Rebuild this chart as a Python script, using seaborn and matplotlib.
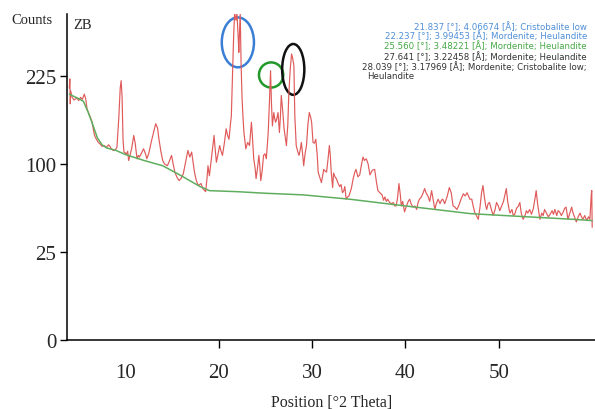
import numpy as np
import pandas as pd
import matplotlib
matplotlib.use('Agg')
import matplotlib.pyplot as plt
from matplotlib.patches import Ellipse
import seaborn as sns

two_theta = [
    4.0, 4.05, 4.1, 4.15, 4.3, 4.5, 4.8, 5.0, 5.2, 5.4, 5.6, 5.75, 5.9, 6.1, 6.4, 6.55, 6.7, 6.9,
    7.1, 7.3, 7.5, 7.7, 8.0, 8.2, 8.35, 8.5, 8.7, 8.9, 9.1, 9.3, 9.45, 9.55, 9.65, 9.75, 9.85,
    10.0, 10.1, 10.25, 10.35, 10.5, 10.7, 10.9, 11.05, 11.25, 11.4, 11.5, 11.7, 11.95, 12.15,
    12.3, 12.5, 12.8, 13.0, 13.25, 13.45, 13.6, 13.8, 14.0, 14.2, 14.5, 14.7, 14.95, 15.1, 15.3,
    15.5, 15.75, 15.95, 16.2, 16.45, 16.7, 16.9, 17.1, 17.25, 17.4, 17.6, 17.8, 18.1, 18.3, 18.5,
    18.6, 18.75, 18.85, 19.0, 19.2, 19.5, 19.6, 19.75, 19.9, 20.1, 20.25, 20.4, 20.6, 20.8, 20.95,
    21.1, 21.25, 21.35, 21.5, 21.6, 21.7, 21.85, 21.95, 22.1, 22.15, 22.25, 22.3, 22.4, 22.5,
    22.6, 22.7, 22.9, 23.0, 23.1, 23.3, 23.5, 23.6, 23.75, 23.9, 24.0, 24.15, 24.3, 24.4, 24.5,
    24.65, 24.8, 24.95, 25.1, 25.3, 25.45, 25.55, 25.65, 25.75, 25.9, 26.0, 26.1, 26.25, 26.35,
    26.5, 26.6, 26.7, 26.85, 27.0, 27.15, 27.25, 27.4, 27.5, 27.65, 27.8, 27.9, 28.05, 28.15,
    28.3, 28.45, 28.6, 28.75, 28.85, 29.0, 29.1, 29.25, 29.4, 29.55, 29.7, 29.85, 29.95, 30.1,
    30.25, 30.4, 30.55, 30.65, 30.8, 31.0, 31.15, 31.25, 31.4, 31.55, 31.7, 31.85, 31.95, 32.05,
    32.2, 32.3, 32.45, 32.6, 32.75, 32.95, 33.1, 33.25, 33.4, 33.5, 33.65, 33.8, 33.95, 34.2,
    34.4, 34.55, 34.7, 34.9, 35.1, 35.3, 35.45, 35.6, 35.8, 36.0, 36.2, 36.45, 36.7, 36.9, 37.05,
    37.25, 37.5, 37.65, 37.8, 37.95, 38.1, 38.3, 38.5, 38.7, 38.85, 39.0, 39.15, 39.3, 39.45,
    39.55, 39.7, 39.9, 40.1, 40.3, 40.45, 40.6, 40.8, 41.0, 41.2, 41.35, 41.5, 41.7, 41.9, 42.05,
    42.2, 42.4, 42.6, 42.8, 43.0, 43.15, 43.3, 43.5, 43.7, 43.85, 44.0, 44.2, 44.45, 44.7, 44.9,
    45.1, 45.3, 45.5, 45.7, 45.95, 46.2, 46.4, 46.6, 46.75, 46.9, 47.1, 47.25, 47.4, 47.6, 47.8,
    48.0, 48.15, 48.3, 48.45, 48.6, 48.7, 48.85, 49.0, 49.2, 49.4, 49.6, 49.75, 49.95, 50.1,
    50.3, 50.5, 50.65, 50.8, 50.95, 51.1, 51.2, 51.4, 51.55, 51.7, 51.9, 52.1, 52.25, 52.4, 52.6,
    52.8, 52.95, 53.1, 53.3, 53.5, 53.7, 53.9, 54.0, 54.15, 54.3, 54.4, 54.6, 54.75, 54.9, 55.1,
    55.3, 55.5, 55.7, 55.85, 56.0, 56.2, 56.35, 56.5, 56.7, 56.9, 57.05, 57.2, 57.4, 57.6, 57.8,
    57.95, 58.15, 58.3, 58.5, 58.7, 58.85, 59.0, 59.2, 59.4, 59.6, 59.75, 59.9, 59.95, 60.0,
]
counts = [
    205, 220, 180, 200, 190, 186, 189, 185, 190, 187, 195, 188, 172, 165, 155, 145, 135, 130,
    126, 124, 121, 122, 120, 123, 121, 118, 116, 116, 120, 160, 205, 217, 190, 130, 114,
    113, 111, 115, 104, 110, 120, 135, 125, 106, 110, 108, 112, 118, 112,
    106, 112, 128, 138, 151, 145, 130, 115, 104, 100, 98, 103, 110, 101, 91,
    86, 82, 84, 89, 102, 116, 108, 114, 102, 91, 82, 77, 79, 74, 72,
    71, 85, 98, 87, 105, 135, 120, 102, 110, 122, 115, 110, 125, 144, 135,
    130, 150, 162, 243, 300, 345, 330, 345, 290, 267, 320, 345, 242, 188,
    160, 139, 118, 122, 126, 122, 153, 135, 106, 95, 84, 95, 110, 98, 82,
    92, 110, 112, 106, 139, 190, 234, 180, 148, 167, 158, 153, 160, 167,
    139, 160, 193, 170, 144, 130, 122, 150, 193, 235, 264, 258, 243, 162,
    122, 115, 110, 118, 126, 110, 98, 112, 122, 150, 167, 160, 153, 126,
    125, 130, 110, 91, 86, 80, 88, 94, 92, 91, 105, 122, 110, 91,
    75, 90, 86, 84, 80, 76, 78, 70, 72, 76, 64, 66, 67, 74,
    84, 90, 94, 86, 88, 100, 108, 104, 106, 100, 88, 93, 94, 80, 72,
    70, 68, 63, 66, 62, 64, 61, 60, 61, 58, 58, 65, 79, 68,
    58, 62, 53, 58, 62, 64, 60, 57, 58, 55, 61, 64, 66, 70, 74,
    70, 67, 62, 72, 62, 55, 60, 64, 60, 63, 64, 60, 66, 75, 70,
    58, 57, 55, 58, 64, 69, 67, 70, 67, 64, 64, 58, 53, 50, 47,
    58, 70, 77, 66, 58, 55, 60, 61, 55, 50, 55, 61, 58, 54,
    58, 62, 68, 74, 62, 55, 52, 55, 50, 51, 56, 58, 61, 52, 47,
    50, 54, 52, 55, 51, 56, 66, 72, 60, 52, 47, 52, 50, 55, 52,
    49, 51, 54, 51, 55, 50, 54, 53, 50, 53, 56, 57, 47, 52, 57,
    52, 48, 45, 49, 52, 49, 47, 50, 46, 49, 47, 68, 72, 41,
]

# fitted background
bg_theta = [4, 5, 5.5, 6, 6.5, 7, 7.5, 8, 9, 10, 12, 14, 16, 18, 19, 22, 25, 29, 34, 40, 47, 53, 58, 60]
bg_counts = [195, 188, 184, 168, 150, 132, 123, 119, 116, 111, 104, 98, 87, 76, 72, 71, 69.5, 68, 64,
             58, 51.5, 49, 47, 46]

y_ticks = [0, 25, 100, 225]
x_ticks = [10, 20, 30, 40, 50]

peak_lines = [
    ('21.837 [°]; 4.06674 [Å]; Cristobalite low', '#4f8fd6'),
    ('22.237 [°]; 3.99453 [Å]; Mordenite; Heulandite', '#4f8fd6'),
    ('25.560 [°]; 3.48221 [Å]; Mordenite; Heulandite', '#45a845'),
    ('27.641 [°]; 3.22458 [Å]; Mordenite; Heulandite', '#333333'),
    ('28.039 [°]; 3.17969 [Å]; Mordenite; Cristobalite low;', '#333333'),
]

pattern = pd.DataFrame({'theta': two_theta, 'counts': counts})
background = pd.DataFrame({'theta': bg_theta, 'counts': bg_counts})

sns.set_theme(style='white')
plt.rcParams['font.family'] = ['Liberation Serif', 'DejaVu Serif']

fig, ax = plt.subplots(figsize=(5.95, 4.1), dpi=100)
fig.subplots_adjust(left=0.1134, right=1.0, bottom=0.1683, top=0.9634)

sns.lineplot(data=pattern, x='theta', y='counts', ax=ax, color='#e05a5a', linewidth=0.85)
sns.lineplot(data=background, x='theta', y='counts', ax=ax, color='#5fae5f', linewidth=1.1)

# square-root intensity axis
ax.set_yscale('function', functions=(lambda v: np.sqrt(np.clip(v, 0, None)), lambda v: v ** 2))
ax.set_ylim(0, 343)
ax.set_xlim(3.8, 60.3)
ax.set_yticks(y_ticks)
ax.set_xticks(x_ticks)
ax.set_yticklabels([str(t) for t in y_ticks])
ax.set_xticklabels([str(t) for t in x_ticks])
ax.tick_params(axis='y', direction='out', length=5, width=1, pad=3, labelsize=15, left=True, color='black')
ax.tick_params(axis='x', direction='out', length=6, width=1, pad=10.5, labelsize=15, bottom=True, color='black')
ax.xaxis.get_major_ticks()[0].tick1line.set_visible(False)

for side in ['top', 'right']:
    ax.spines[side].set_visible(False)
for side in ['left', 'bottom']:
    ax.spines[side].set_color('black')
    ax.spines[side].set_linewidth(1.1)

ax.set_xlabel('Position [°2 Theta]', fontsize=11.5, labelpad=9)
ax.set_ylabel('')

# markers around the main reflections
ax.add_patch(Ellipse((0.323, 0.913), 0.061, 0.153, transform=ax.transAxes, fill=False,
                     ec='#3a7fd5', lw=1.8, clip_on=False))
ax.add_patch(Ellipse((0.386, 0.813), 0.046, 0.077, transform=ax.transAxes, fill=False,
                     ec='#22992a', lw=1.8, clip_on=False))
ax.add_patch(Ellipse((0.428, 0.830), 0.042, 0.156, transform=ax.transAxes, fill=False,
                     ec='#111111', lw=1.8, clip_on=False))

fig.text(0.053, 0.949, 'Counts', ha='center', va='center', fontsize=10.5)
fig.text(0.139, 0.939, 'ZB', ha='center', va='center', fontsize=10.5)

line_y = [27, 36, 46, 57, 67]
for (txt, col), py in zip(peak_lines, line_y):
    fig.text(587 / 595, 1 - py / 410, txt, ha='right', va='center', fontsize=6.2, color=col,
             family=['DejaVu Sans'])
fig.text(367 / 595, 1 - 77 / 410, 'Heulandite', ha='left', va='center', fontsize=6.2,
         color='#333333', family=['DejaVu Sans'])

fig.savefig('out.png', dpi=100)
